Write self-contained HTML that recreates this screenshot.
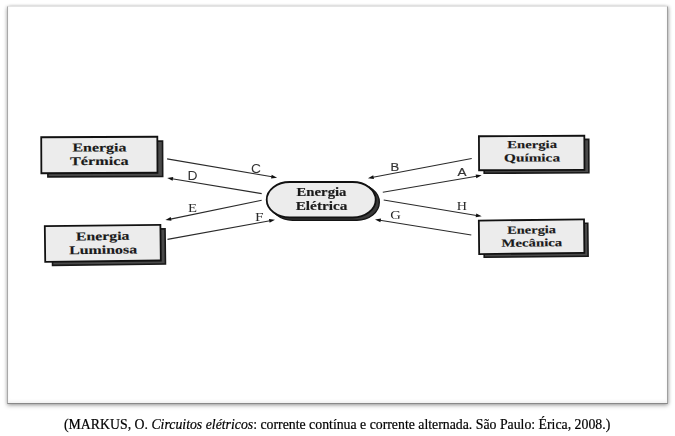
<!DOCTYPE html>
<html><head><meta charset="utf-8">
<style>
html,body{margin:0;padding:0;background:#fff;width:675px;height:436px;overflow:hidden;}
#frame{position:absolute;left:7px;top:6px;width:659px;height:396px;background:#fff;
 border-top:1px solid #e4e4e4;border-left:1px solid #a8a8a8;border-right:1px solid #a0a0a0;border-bottom:1px solid #888;
 box-shadow:0 2px 4px rgba(0,0,0,0.25), 1.5px 0 3px rgba(0,0,0,0.14), -1.5px 0 3px rgba(0,0,0,0.12), inset 0 -2px 3px rgba(0,0,0,0.06);}
svg{position:absolute;left:0;top:0;filter:blur(0.35px);}
#cap{position:absolute;left:64px;top:417px;font-family:"Liberation Serif",serif;font-size:13.8px;color:#000;-webkit-text-stroke:0.2px #000;white-space:nowrap;}
</style></head>
<body>
<div id="frame"></div>
<svg width="675" height="436" viewBox="0 0 675 436">
 <g font-family="Liberation Serif" font-weight="bold" fill="#1a1a1a" stroke="#1a1a1a" stroke-width="0.15">
  <!-- box 1 -->
  <g transform="rotate(-0.25 100 155)">
  <rect x="47.8" y="141.4" width="114.8" height="35.3" fill="#4a4a4a" stroke="#181818" stroke-width="1.6"/>
  <rect x="41.3" y="137" width="116.1" height="36" fill="#ececec" stroke="#111" stroke-width="1.8"/>
  <text x="72.5" y="151.5" font-size="12" textLength="54" lengthAdjust="spacingAndGlyphs">Energia</text>
  <text x="70" y="165" font-size="12" textLength="58.5" lengthAdjust="spacingAndGlyphs">Térmica</text>
    </g>
  <!-- box 2 -->
  <g transform="rotate(-0.7 103 243)">
  <rect x="52.3" y="229.6" width="112.9" height="35.2" fill="#4a4a4a" stroke="#181818" stroke-width="1.6"/>
  <rect x="45" y="225.5" width="115.6" height="35.7" fill="#ececec" stroke="#111" stroke-width="1.8"/>
  <text x="76" y="240.1" font-size="12" textLength="53.5" lengthAdjust="spacingAndGlyphs">Energia</text>
  <text x="69" y="253.8" font-size="12" textLength="68" lengthAdjust="spacingAndGlyphs">Luminosa</text>
    </g>
  <!-- pill -->
  <rect x="270.2" y="184.2" width="109.1" height="36.1" rx="22.5" ry="18" fill="#3a3a3a" stroke="#151515" stroke-width="1.4"/>
  <rect x="266.7" y="182" width="109" height="35.5" rx="23" ry="17.75" fill="#ececec" stroke="#111" stroke-width="1.8"/>
  <text x="296.5" y="196.3" font-size="11.5" textLength="50" lengthAdjust="spacingAndGlyphs">Energia</text>
  <text x="295.7" y="209.5" font-size="11.5" textLength="51.7" lengthAdjust="spacingAndGlyphs">Elétrica</text>
  <!-- box 3 -->
  <g transform="rotate(-0.25 532 153)">
  <rect x="484.1" y="139.6" width="104.7" height="33.4" fill="#4a4a4a" stroke="#181818" stroke-width="1.6"/>
  <rect x="479" y="136" width="105.4" height="34" fill="#ececec" stroke="#111" stroke-width="1.8"/>
  <text x="507.3" y="148.2" font-size="11" textLength="49.7" lengthAdjust="spacingAndGlyphs">Energia</text>
  <text x="504" y="161.5" font-size="11" textLength="56" lengthAdjust="spacingAndGlyphs">Química</text>
    </g>
  <!-- box 4 -->
  <g transform="rotate(-0.6 532 237)">
  <rect x="484" y="223.8" width="103.9" height="33" fill="#4a4a4a" stroke="#181818" stroke-width="1.6"/>
  <rect x="479" y="220" width="105.2" height="33.5" fill="#ececec" stroke="#111" stroke-width="1.8"/>
  <text x="507.3" y="233.5" font-size="11" textLength="48.8" lengthAdjust="spacingAndGlyphs">Energia</text>
  <text x="501.4" y="246.5" font-size="11" textLength="60.7" lengthAdjust="spacingAndGlyphs">Mecânica</text>
  </g>
 </g>
 <g stroke="#2a2a2a" stroke-width="1.1" fill="none">
  <line x1="167.1" y1="158.9" x2="272" y2="176.8"/>
  <line x1="172" y1="178.8" x2="261.7" y2="193.6"/>
  <line x1="261.7" y1="200.3" x2="170.5" y2="219.1"/>
  <line x1="167.5" y1="239.4" x2="270" y2="220.8"/>
  <line x1="471.7" y1="158.5" x2="373" y2="177.2"/>
  <line x1="382.8" y1="192.3" x2="476.5" y2="176.3"/>
  <line x1="383.7" y1="200" x2="476.5" y2="215.5"/>
  <line x1="471.3" y1="235" x2="380" y2="220.3"/>
 </g>
 <g>
  <path d="M0.3,0 L-5.5,-1.9 L-5.5,1.9 Z" fill="#111" transform="translate(276.8,177.6) rotate(9.7)"/>
  <path d="M0.3,0 L-5.5,-1.9 L-5.5,1.9 Z" fill="#111" transform="translate(167.5,178.1) rotate(189.3)"/>
  <path d="M0.3,0 L-5.5,-1.9 L-5.5,1.9 Z" fill="#111" transform="translate(165.7,219.9) rotate(168.5)"/>
  <path d="M0.3,0 L-5.5,-1.9 L-5.5,1.9 Z" fill="#111" transform="translate(274.7,219.9) rotate(-10.3)"/>
  <path d="M0.3,0 L-5.5,-1.9 L-5.5,1.9 Z" fill="#111" transform="translate(368.2,178.1) rotate(169.2)"/>
  <path d="M0.3,0 L-5.5,-1.9 L-5.5,1.9 Z" fill="#111" transform="translate(481.4,175.4) rotate(-9.7)"/>
  <path d="M0.3,0 L-5.5,-1.9 L-5.5,1.9 Z" fill="#111" transform="translate(481.4,216.3) rotate(9.5)"/>
  <path d="M0.3,0 L-5.5,-1.9 L-5.5,1.9 Z" fill="#111" transform="translate(375.3,219.5) rotate(189.2)"/>
 </g>
 <g font-family="Liberation Sans" fill="#333" stroke="#333" stroke-width="0.2" font-size="11">
  <text x="251" y="172.6" font-size="12.3" stroke="none" fill="#333" textLength="10" lengthAdjust="spacingAndGlyphs">C</text>
  <text x="187.5" y="180" font-size="12" stroke="none" fill="#333" textLength="10" lengthAdjust="spacingAndGlyphs">D</text>
  <text x="390.5" y="170.7" textLength="8.7" lengthAdjust="spacingAndGlyphs">B</text>
  <text x="457.5" y="176" textLength="9" lengthAdjust="spacingAndGlyphs">A</text>
 </g>
 <g font-family="Liberation Serif" fill="#2a2a2a" font-size="12">
  <text x="188" y="212" textLength="9" lengthAdjust="spacingAndGlyphs">E</text>
  <text x="255" y="221.3" textLength="8.6" lengthAdjust="spacingAndGlyphs">F</text>
  <text x="456.7" y="209.7" textLength="10.2" lengthAdjust="spacingAndGlyphs">H</text>
  <text x="390.3" y="219.3" textLength="10.6" lengthAdjust="spacingAndGlyphs">G</text>
 </g>
</svg>
<div id="cap">(MARKUS, O. <i>Circuitos elétricos</i>: corrente contínua e corrente alternada. São Paulo: Érica, 2008.)</div>
</body></html>
